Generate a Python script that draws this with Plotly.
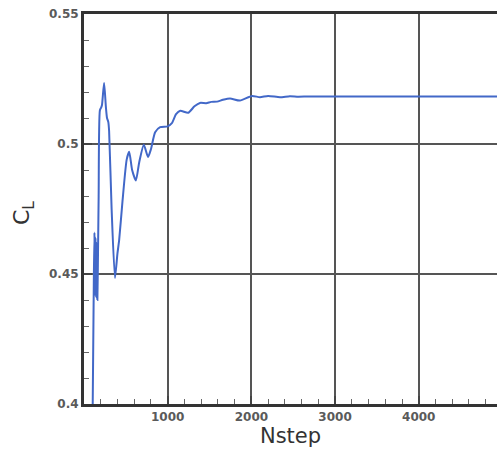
import plotly.graph_objects as go

nstep = [100, 118, 125, 130, 138, 145, 152, 160, 168, 175, 190, 205, 215, 240, 262, 275, 290, 300,
         330, 370, 400, 420, 460, 510, 540, 575, 620, 660, 715, 765, 800, 850, 910, 1000, 1050,
         1100, 1150, 1245, 1320, 1386, 1460, 1520, 1590, 1660, 1745, 1864, 2007, 2103, 2200,
         2342, 2460, 2560, 2700, 5000]
cl = [0.385, 0.450, 0.466, 0.442, 0.464, 0.441, 0.462, 0.440, 0.460, 0.480, 0.513, 0.514, 0.515,
      0.5235, 0.514, 0.510, 0.5085, 0.505, 0.475, 0.4485, 0.458, 0.463, 0.478, 0.494, 0.497,
      0.490, 0.486, 0.493, 0.4997, 0.495, 0.498, 0.5045, 0.5065, 0.5068, 0.508, 0.5115, 0.5128,
      0.512, 0.5145, 0.5158, 0.5157, 0.5162, 0.5163, 0.517, 0.5175, 0.5167, 0.5185, 0.518,
      0.5185, 0.518, 0.5184, 0.5182, 0.5183, 0.5183]

x_ticks = [1000, 2000, 3000, 4000]
y_ticks = [0.4, 0.45, 0.5, 0.55]
y_ticklabels = ["0.4", "0.45", "0.5", "0.55"]

fig = go.Figure()
fig.add_trace(go.Scatter(x=nstep, y=cl, mode="lines",
                         line=dict(color="#4268c8", width=2, shape="spline", smoothing=0.6),
                         showlegend=False, hoverinfo="skip"))

tickfont = dict(family="DejaVu Sans", size=12, color="#5a5a5a", weight="bold")
fig.update_layout(
    width=497, height=450,
    margin=dict(l=84, r=0, t=14, b=46),
    paper_bgcolor="white", plot_bgcolor="white",
    xaxis=dict(range=[0, 4935], tickvals=x_ticks, ticktext=[str(v) for v in x_ticks],
               ticks="inside", ticklen=8, tickwidth=2, tickcolor="#444444",
               showgrid=True, gridcolor="#555555", gridwidth=2,
               showline=True, linecolor="#333333", linewidth=3, mirror=True,
               zeroline=False, tickfont=tickfont,
               minor=dict(dtick=200, tick0=0, ticks="inside", ticklen=5, tickwidth=1,
                          tickcolor="#666666", showgrid=False),
               title=dict(text="Nstep", font=dict(family="DejaVu Sans", size=21, color="#333333"),
                          standoff=1)),
    yaxis=dict(range=[0.4, 0.55], tickvals=y_ticks, ticktext=y_ticklabels,
               ticks="inside", ticklen=8, tickwidth=2, tickcolor="#444444",
               showgrid=True, gridcolor="#555555", gridwidth=2,
               showline=True, linecolor="#333333", linewidth=3,
               zeroline=False, tickfont=tickfont,
               minor=dict(dtick=0.01, tick0=0.4, ticks="inside", ticklen=5, tickwidth=1,
                          tickcolor="#666666", showgrid=False)),
)
fig.add_annotation(text="C<sub>L</sub>", textangle=-90, showarrow=False,
                   xref="paper", yref="paper", x=-0.145, y=0.49,
                   xanchor="center", yanchor="middle",
                   font=dict(family="DejaVu Sans", size=22, color="#333333"))

fig.write_html("out.html")
